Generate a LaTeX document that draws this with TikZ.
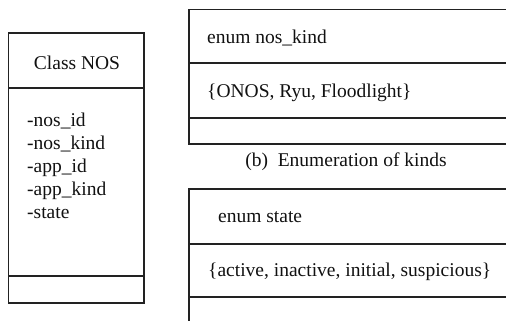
\documentclass[tikz,border=0pt]{standalone}
\usepackage{fontspec}
\setmainfont{Liberation Serif}
\newfontfamily\umlfont{Liberation Serif}
\definecolor{inkline}{HTML}{222222}
\definecolor{inktext}{HTML}{111111}
\tikzset{
  umlframe/.style={draw=inkline, line width=1.5pt},
  umltext/.style={inner sep=0pt, text=inktext, font=\umlfont\fontsize{19.5}{23}\selectfont},
}
\begin{document}
\begin{tikzpicture}[x=1pt,y=-1pt]
\useasboundingbox (0,0) rectangle (506,321);

% Class NOS: header, attributes, empty operations compartment
\draw[umlframe] (8.5,33) rectangle (144,303);
\draw[umlframe] (8.5,88) -- (144,88);
\draw[umlframe] (8.5,276) -- (144,276);
\node[umltext] (classname) at (77,63) {Class NOS};
\node[umltext, anchor=west, align=left] (attrs) at (27,166)
  {-nos\_id\\-nos\_kind\\-app\_id\\-app\_kind\\-state};

% enum nos_kind
\draw[umlframe] (520,9.5) -- (189,9.5) -- (189,144) -- (520,144);
\draw[umlframe] (189,63) -- (520,63);
\draw[umlframe] (189,118) -- (520,118);
\node[umltext, anchor=west] (kindname) at (207,38) {enum nos\_kind};
\node[umltext, anchor=west] (kindvals) at (207,93) {\{ONOS, Ryu, Floodlight\}};

% caption
\node[umltext] (caption) at (346,162) {(b)\ \ Enumeration of kinds};

% enum state
\draw[umlframe] (520,189) -- (189,189) -- (189,340);
\draw[umlframe] (189,244) -- (520,244);
\draw[umlframe] (189,297) -- (520,297);
\node[umltext, anchor=west] (statename) at (218,217) {enum state};
\node[umltext, anchor=west] (statevals) at (208,272) {\{active, inactive, initial, suspicious\}};
\end{tikzpicture}
\end{document}
